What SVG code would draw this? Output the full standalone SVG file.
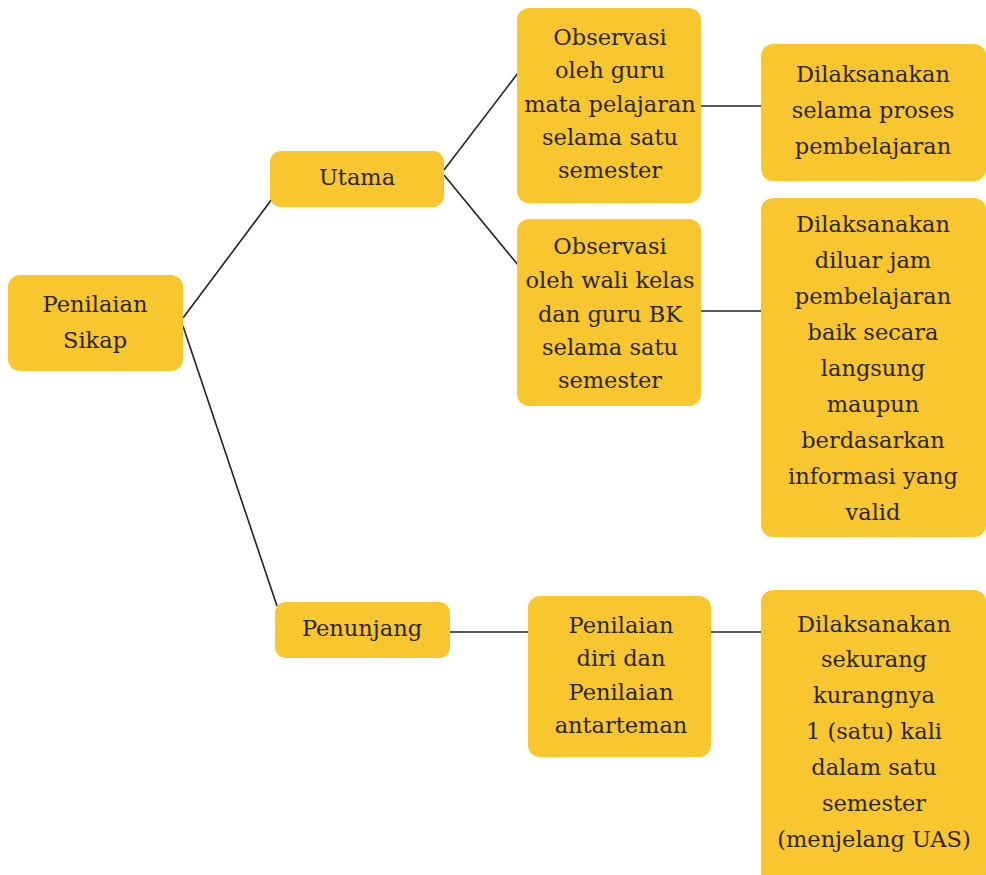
<svg xmlns="http://www.w3.org/2000/svg" width="986" height="875" viewBox="0 0 986 875">
<style>
.box{fill:#F8C72F;}
.t{font-family:"DejaVu Serif","Liberation Serif",serif;font-size:22.5px;fill:#2b2622;text-anchor:middle;}
.c{stroke:#222;stroke-width:1.6;fill:none;}
</style>
<rect width="986" height="875" fill="#fff"/>
<g id="connectors">
<line class="c" x1="183" y1="318" x2="272" y2="199"/>
<line class="c" x1="183" y1="326" x2="277" y2="606"/>
<line class="c" x1="444" y1="170" x2="518" y2="73"/>
<line class="c" x1="444" y1="175" x2="518" y2="265"/>
<line class="c" x1="701" y1="106" x2="761" y2="106"/>
<line class="c" x1="701" y1="311" x2="761" y2="311"/>
<line class="c" x1="450" y1="632" x2="528" y2="632"/>
<line class="c" x1="711" y1="632" x2="761" y2="632"/>
</g>
<g id="penilaian-sikap">
<rect class="box" x="8" y="275" width="175" height="96" rx="12"/>
<text class="t" x="95" y="312">Penilaian</text>
<text class="t" x="95" y="348">Sikap</text>
</g>
<g id="utama">
<rect class="box" x="270" y="151" width="174" height="56" rx="11"/>
<text class="t" x="357" y="185">Utama</text>
</g>
<g id="observasi-guru">
<rect class="box" x="517" y="8" width="184" height="195" rx="12"/>
<text class="t" x="610" y="45">Observasi</text>
<text class="t" x="610" y="78">oleh guru</text>
<text class="t" x="610" y="112">mata pelajaran</text>
<text class="t" x="610" y="145">selama satu</text>
<text class="t" x="610" y="178">semester</text>
</g>
<g id="dilaksanakan-proses">
<rect class="box" x="761" y="44" width="225" height="137" rx="12"/>
<text class="t" x="873" y="82">Dilaksanakan</text>
<text class="t" x="873" y="118">selama proses</text>
<text class="t" x="873" y="154">pembelajaran</text>
</g>
<g id="observasi-wali">
<rect class="box" x="517" y="219" width="184" height="187" rx="12"/>
<text class="t" x="610" y="254">Observasi</text>
<text class="t" x="610" y="288">oleh wali kelas</text>
<text class="t" x="610" y="322">dan guru BK</text>
<text class="t" x="610" y="355">selama satu</text>
<text class="t" x="610" y="388">semester</text>
</g>
<g id="dilaksanakan-diluar">
<rect class="box" x="761" y="198" width="225" height="339" rx="12"/>
<text class="t" x="873" y="232">Dilaksanakan</text>
<text class="t" x="873" y="268">diluar jam</text>
<text class="t" x="873" y="304">pembelajaran</text>
<text class="t" x="873" y="340">baik secara</text>
<text class="t" x="873" y="376">langsung</text>
<text class="t" x="873" y="412">maupun</text>
<text class="t" x="873" y="448">berdasarkan</text>
<text class="t" x="873" y="484">informasi yang</text>
<text class="t" x="873" y="520">valid</text>
</g>
<g id="penunjang">
<rect class="box" x="275" y="602" width="175" height="56" rx="11"/>
<text class="t" x="362" y="636">Penunjang</text>
</g>
<g id="penilaian-diri">
<rect class="box" x="528" y="596" width="183" height="161" rx="12"/>
<text class="t" x="621" y="633">Penilaian</text>
<text class="t" x="621" y="666">diri dan</text>
<text class="t" x="621" y="700">Penilaian</text>
<text class="t" x="621" y="733">antarteman</text>
</g>
<g id="dilaksanakan-sekurang">
<rect class="box" x="761" y="590" width="225" height="295" rx="12"/>
<text class="t" x="874" y="632">Dilaksanakan</text>
<text class="t" x="874" y="667">sekurang</text>
<text class="t" x="874" y="703">kurangnya</text>
<text class="t" x="874" y="739">1 (satu) kali</text>
<text class="t" x="874" y="775">dalam satu</text>
<text class="t" x="874" y="811">semester</text>
<text class="t" x="874" y="847">(menjelang UAS)</text>
</g>
</svg>
